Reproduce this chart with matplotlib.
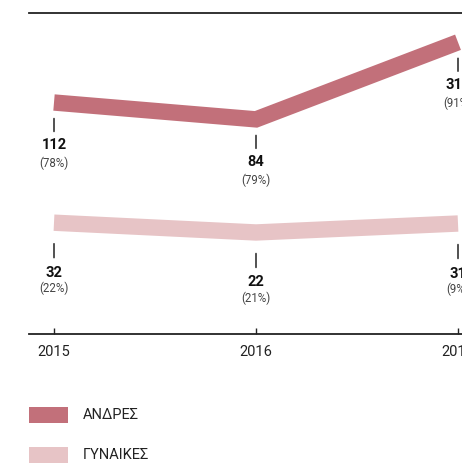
import matplotlib.pyplot as plt
from matplotlib.patches import Rectangle

plt.rcParams['font.family'] = ['Roboto', 'DejaVu Sans']

# Δεδομένα
years = [2015, 2016, 2017]
men = [112, 84, 313]
men_pct = ['(78%)', '(79%)', '(91%)']
women = [32, 22, 31]
women_pct = ['(22%)', '(21%)', '(9%)']
labels = ['ΑΝΔΡΕΣ', 'ΓΥΝΑΙΚΕΣ']

men_color = '#c2707a'
women_color = '#e7c4c6'

fig = plt.figure(figsize=(4.62, 4.63), dpi=100)
rect = [29 / 462, 129 / 463, 433 / 462, 321 / 463]

# Άξονας για άνδρες (λογαριθμική κλίμακα)
ax = fig.add_axes(rect)
ax.set_yscale('log')
ax.set_xlim(2015 - 25 / 202, 2017 + 4 / 202)
ax.set_ylim(2.160, 515.5)
ax.plot(years, men, color=men_color, lw=11.8,
        solid_capstyle='butt', solid_joinstyle='miter')

# Άξονας για γυναίκες, στην ίδια θέση
ax2 = fig.add_axes(rect)
ax2.set_yscale('log')
ax2.set_xlim(ax.get_xlim())
ax2.set_ylim(10 ** -0.3438, 10 ** 4.988)
ax2.plot(years, women, color=women_color, lw=11.8,
         solid_capstyle='butt', solid_joinstyle='miter')
ax2.patch.set_visible(False)
ax2.axis('off')

# Εμφάνιση άξονα
for side in ['left', 'right']:
    ax.spines[side].set_visible(False)
for side in ['top', 'bottom']:
    ax.spines[side].set_linewidth(1.3)
    ax.spines[side].set_color('#222222')
ax.set_yticks([])
ax.minorticks_off()
ax.set_xticks(years)
ax.set_xticklabels([str(y) for y in years], fontsize=10.5, color='#222222')
ax.tick_params(axis='x', direction='in', length=4.5, width=1, pad=8,
               color='#222222')
ax.tick_params(axis='y', which='both', left=False, labelleft=False)


def annotate_series(axis, values, pcts, offs):
    t0, t1, num, pct = offs
    for x, v, p in zip(years, values, pcts):
        axis.annotate('', xy=(x, v), xytext=(0, -t1), textcoords='offset pixels',
                      arrowprops=dict(arrowstyle='-', shrinkA=0, shrinkB=t0 * 0.72,
                                      lw=1.1, color='#222222'))
        axis.annotate(str(v), xy=(x, v), xytext=(0, -num), textcoords='offset pixels',
                      ha='center', va='center', fontsize=10.5, fontweight='bold',
                      color='#111111')
        axis.annotate(p, xy=(x, v), xytext=(0, -pct), textcoords='offset pixels',
                      ha='center', va='center', fontsize=8.3, color='#444444')


annotate_series(ax, men, men_pct, (16, 29, 42.5, 61))
annotate_series(ax2, women, women_pct, (21, 35, 50, 66))

# Υπόμνημα
for i, (lab, col) in enumerate(zip(labels, [men_color, women_color])):
    y = 1 - (423 + 40 * i) / 463
    fig.add_artist(Rectangle((29 / 462, y), 39 / 462, 16 / 463,
                             transform=fig.transFigure, color=col, lw=0))
    fig.text(83 / 462, y + 8 / 463, lab, fontsize=10.5, va='center', ha='left',
             color='#222222')

plt.savefig('out.png', dpi=100)
